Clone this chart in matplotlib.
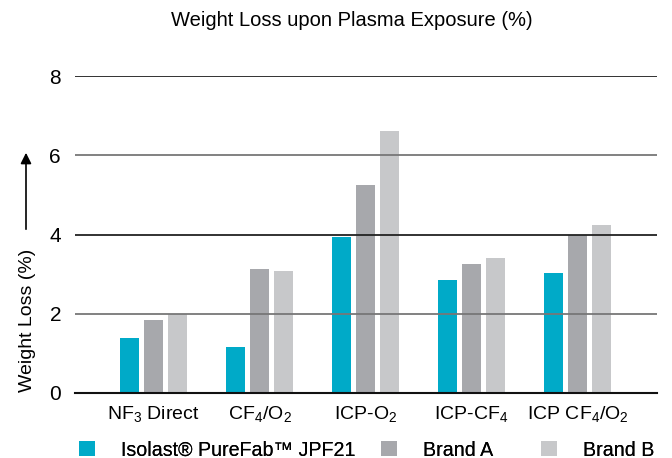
import numpy as np
import matplotlib
matplotlib.use('Agg')
import matplotlib.pyplot as plt

plt.rcParams['font.family'] = ['Liberation Sans', 'DejaVu Sans']
plt.rcParams['mathtext.default'] = 'regular'

# data
categories = [r'NF$_3$ Direct', r'CF$_4$/O$_2$', r'ICP-O$_2$', r'ICP-CF$_4$', r'ICP CF$_4$/O$_2$']
isolast = [1.39, 1.16, 3.94, 2.85, 3.03]
brand_a = [1.84, 3.13, 5.25, 3.26, 4.00]
brand_b = [1.99, 3.08, 6.62, 3.41, 4.24]
series_names = ['Isolast® PureFab™ JPF21', 'Brand A', 'Brand B']
cols = ['#00AAC8', '#A7A8AC', '#C7C8CA']

fig = plt.figure(figsize=(6.72, 4.58), dpi=100)
ax = fig.add_axes([75/672, 65/458, (657-75)/672, (393-76)/458])

x = np.arange(len(categories))
w = 0.18
off = 0.226
bars = []
for i, (vals, c, n) in enumerate(zip([isolast, brand_a, brand_b], cols, series_names)):
    b = ax.bar(x + (i-1)*off, vals, width=w, color=c, label=n, zorder=2)
    bars.append(b)

# horizontal lines, drawn over the bars
for v in [2, 4, 6, 8]:
    lc = '#222222' if v % 4 == 0 else '#777777'
    ax.axhline(v, color=lc, lw=1.3, zorder=3)

ax.set_xlim(-0.74, 4.75)
ax.set_ylim(0, 8)
ax.set_yticks([0, 2, 4, 6, 8])
ax.set_xticks(x)
ax.set_xticklabels(categories, fontsize=14)
ax.tick_params(axis='y', labelsize=15, length=0, pad=10)
ax.tick_params(axis='x', length=0, pad=8)
for s in ['top', 'right', 'left']:
    ax.spines[s].set_visible(False)
ax.spines['bottom'].set_color('#111111')
ax.spines['bottom'].set_linewidth(1.5)
ax.spines['bottom'].set_zorder(4)

fig.text(352/672, 1 - 20/458, 'Weight Loss upon Plasma Exposure (%)', ha='center', va='center', fontsize=14.5)
fig.text(27/672, 1 - 320/458, 'Weight Loss (%)', rotation=90, ha='center', va='center', fontsize=14)
ax.annotate('', xy=(26/672, 1 - 150/458), xytext=(26/672, 1 - 232/458),
            xycoords='figure fraction', textcoords='figure fraction',
            arrowprops=dict(arrowstyle='-|>', color='black', lw=1.2, mutation_scale=16))

# legend entries sit at fixed spots along the bottom
leg_x = [79, 381, 541]
for b, n, lx in zip(bars, series_names, leg_x):
    lg = fig.legend(handles=[b], labels=[n], loc='center left', bbox_to_anchor=(lx/672, 1 - 450/458),
                    frameon=False, fontsize=14.1, handlelength=0.82, handleheight=0.78,
                    handletextpad=1.3, borderaxespad=0, borderpad=0)
    fig.add_artist(lg)

fig.savefig('out.png', dpi=100)
